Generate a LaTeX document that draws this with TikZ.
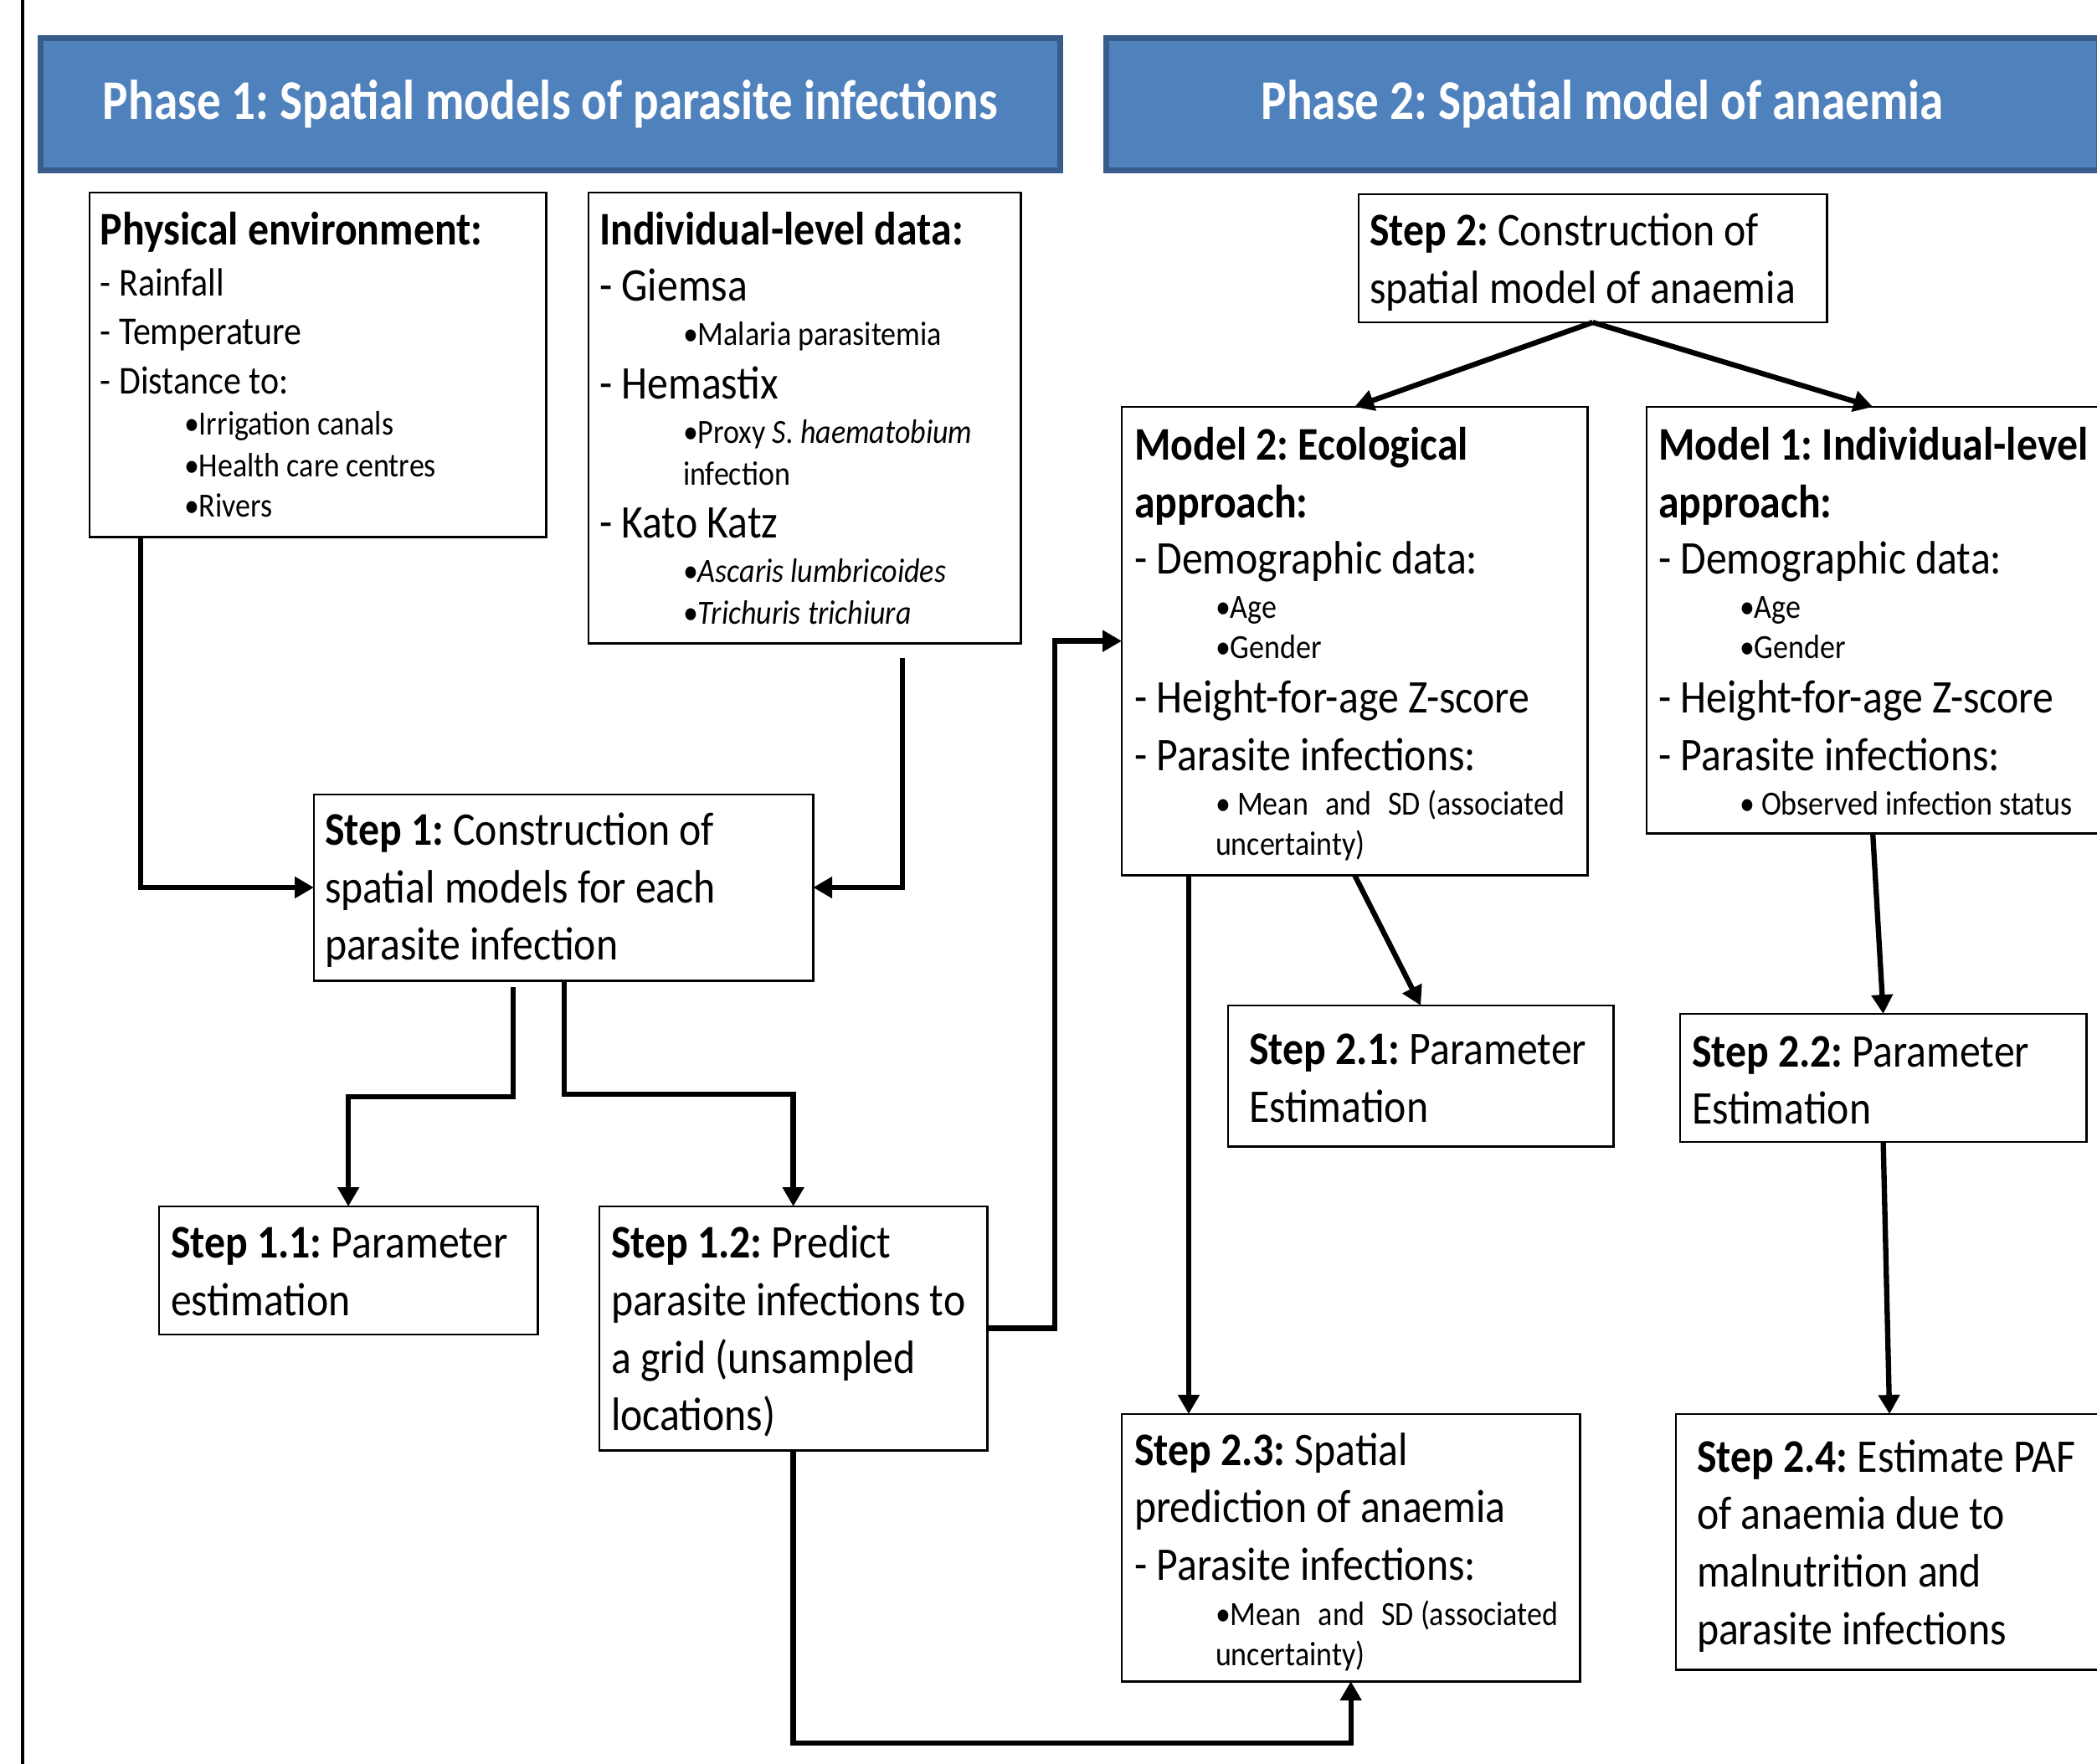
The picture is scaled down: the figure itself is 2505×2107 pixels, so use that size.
\documentclass[tikz,border=0pt]{standalone}
\usepackage{fontspec}
\setmainfont[FakeStretch=0.89]{Carlito}
\newfontfamily\hdrfont[FakeStretch=0.855]{Carlito}
\usetikzlibrary{arrows.meta,calc}
\definecolor{hdrfill}{HTML}{4F81BD}
\definecolor{hdrdraw}{HTML}{385D8A}
\newcommand\fhead{\hdrfont\fontsize{19pt}{22pt}\selectfont\bfseries}
\newcommand\fttl{\fontsize{15.9pt}{19pt}\selectfont\bfseries}
\newcommand\fbig{\fontsize{15.9pt}{19pt}\selectfont}
\newcommand\fmid{\fontsize{13.4pt}{16pt}\selectfont}
\newcommand\fsub{\fontsize{11.5pt}{14pt}\selectfont}
\frenchspacing
\begin{document}
\begin{tikzpicture}[x=0.01cm,y=-0.01cm,
  box/.style={draw,line width=0.8pt,inner sep=0pt,outer sep=0pt,anchor=north west},
  hdr/.style={draw=hdrdraw,fill=hdrfill,line width=2pt,inner sep=0pt,anchor=north west,text=white,font=\fhead},
  tx/.style={anchor=base west,inner sep=0pt,outer sep=0pt,yshift=-0.03cm},
  conn/.style={line width=1.8pt,-{Triangle[length=6.5pt,width=7pt]}}]
\useasboundingbox (0,0) rectangle (2505,2107);
\clip (0,0) rectangle (2505,2107);
\fill[white] (0,0) rectangle (2505,2107);
\draw[line width=1pt] (27,0) -- (27,2107);

% headers
\node[hdr,minimum width=12.17cm,minimum height=1.58cm] (ph1) at (45,42) {Phase 1: Spatial models of parasite infections};
\node[hdr,minimum width=11.85cm,minimum height=1.58cm] (ph2) at (1318,42) {Phase 2: Spatial model of anaemia};

% boxes
\node[box,minimum width=5.45cm,minimum height=4.11cm] (phys) at (107,230) {};
\node[box,minimum width=5.16cm,minimum height=5.38cm] (indiv) at (703,230) {};
\node[box,minimum width=5.96cm,minimum height=2.22cm] (step1) at (375,949) {};
\node[box,minimum width=4.52cm,minimum height=1.53cm] (step11) at (190,1441) {};
\node[box,minimum width=4.63cm,minimum height=2.91cm] (step12) at (716,1441) {};
\node[box,minimum width=5.59cm,minimum height=1.53cm] (step2) at (1623,232) {};
\node[box,minimum width=5.56cm,minimum height=5.59cm] (model2) at (1340,486) {};
\node[box,minimum width=5.40cm,minimum height=5.09cm] (model1) at (1967,486) {};
\node[box,minimum width=4.60cm,minimum height=1.68cm] (step21) at (1467,1201) {};
\node[box,minimum width=4.85cm,minimum height=1.53cm] (step22) at (2007,1211) {};
\node[box,minimum width=5.47cm,minimum height=3.19cm] (step23) at (1340,1689) {};
\node[box,minimum width=5.10cm,minimum height=3.05cm] (step24) at (2002,1689) {};

% physical environment
\node[tx,font=\fttl] (phys1) at (120,290) {Physical environment:};
\node[tx,font=\fmid] (phys2) at (120,351) {- Rainfall};
\node[tx,font=\fmid] (phys3) at (120,409) {- Temperature};
\node[tx,font=\fmid] (phys4) at (120,468) {- Distance to:};
\node[tx,font=\fsub] (phys5) at (220,517) {•Irrigation canals};
\node[tx,font=\fsub] (phys6) at (220,567) {•Health care centres};
\node[tx,font=\fsub] (phys7) at (220,615) {•Rivers};

% individual-level data
\node[tx,font=\fttl] (ind1) at (716,290) {Individual-level data:};
\node[tx,font=\fbig] (ind2) at (716,357) {- Giemsa};
\node[tx,font=\fsub] (ind3) at (816,410) {•Malaria parasitemia};
\node[tx,font=\fbig] (ind4) at (716,474) {- Hemastix};
\node[tx,font=\fsub] (ind5) at (816,527) {•Proxy \textit{S. haematobium}};
\node[tx,font=\fsub] (ind6) at (816,577) {infection};
\node[tx,font=\fbig] (ind7) at (716,640) {- Kato Katz};
\node[tx,font=\fsub] (ind8) at (816,693) {•\textit{Ascaris lumbricoides}};
\node[tx,font=\fsub] (ind9) at (816,743) {•\textit{Trichuris trichiura}};

% step 1
\node[tx,font=\fbig] (s1a) at (388,1007) {\textbf{Step 1:} Construction of};
\node[tx,font=\fbig] (s1b) at (388,1076) {spatial models for each};
\node[tx,font=\fbig] (s1c) at (388,1144) {parasite infection};

% step 1.1
\node[tx,font=\fbig] (s11a) at (204,1499) {\textbf{Step 1.1:} Parameter};
\node[tx,font=\fbig] (s11b) at (204,1568) {estimation};

% step 1.2
\node[tx,font=\fbig] (s12a) at (730,1499) {\textbf{Step 1.2:} Predict};
\node[tx,font=\fbig] (s12b) at (730,1568) {parasite infections to};
\node[tx,font=\fbig] (s12c) at (730,1637) {a grid (unsampled};
\node[tx,font=\fbig] (s12d) at (730,1705) {locations)};

% step 2
\node[tx,font=\fbig] (s2a) at (1636,291) {\textbf{Step 2:} Construction of};
\node[tx,font=\fbig] (s2b) at (1636,360) {spatial model of anaemia};

% model 2
\node[tx,font=\fttl] (m2a) at (1355,547) {Model 2: Ecological};
\node[tx,font=\fttl] (m2b) at (1355,616) {approach:};
\node[tx,font=\fbig] (m2c) at (1355,683) {- Demographic data:};
\node[tx,font=\fsub] (m2d) at (1452,736) {•Age};
\node[tx,font=\fsub] (m2e) at (1452,784) {•Gender};
\node[tx,font=\fbig] (m2f) at (1355,849) {- Height-for-age Z-score};
\node[tx,font=\fbig] (m2g) at (1355,918) {- Parasite infections:};
\node[tx,font=\fsub] (m2h) at (1452,971) {• Mean\enspace and\enspace SD (associated};
\node[tx,font=\fsub] (m2i) at (1452,1019) {uncertainty)};

% model 1
\node[tx,font=\fttl] (m1a) at (1981,547) {Model 1: Individual-level};
\node[tx,font=\fttl] (m1b) at (1981,616) {approach:};
\node[tx,font=\fbig] (m1c) at (1981,683) {- Demographic data:};
\node[tx,font=\fsub] (m1d) at (2078,736) {•Age};
\node[tx,font=\fsub] (m1e) at (2078,784) {•Gender};
\node[tx,font=\fbig] (m1f) at (1981,849) {- Height-for-age Z-score};
\node[tx,font=\fbig] (m1g) at (1981,918) {- Parasite infections:};
\node[tx,font=\fsub] (m1h) at (2078,971) {• Observed infection status};

% step 2.1 / 2.2
\node[tx,font=\fbig] (s21a) at (1492,1269) {\textbf{Step 2.1:} Parameter};
\node[tx,font=\fbig] (s21b) at (1492,1338) {Estimation};
\node[tx,font=\fbig] (s22a) at (2021,1271) {\textbf{Step 2.2:} Parameter};
\node[tx,font=\fbig] (s22b) at (2021,1339) {Estimation};

% step 2.3
\node[tx,font=\fbig] (s23a) at (1355,1747) {\textbf{Step 2.3:} Spatial};
\node[tx,font=\fbig] (s23b) at (1355,1815) {prediction of anaemia};
\node[tx,font=\fbig] (s23c) at (1355,1884) {- Parasite infections:};
\node[tx,font=\fsub] (s23d) at (1452,1938) {•Mean\enspace and\enspace SD (associated};
\node[tx,font=\fsub] (s23e) at (1452,1986) {uncertainty)};

% step 2.4
\node[tx,font=\fbig] (s24a) at (2027,1755) {\textbf{Step 2.4:} Estimate PAF};
\node[tx,font=\fbig] (s24b) at (2027,1823) {of anaemia due to};
\node[tx,font=\fbig] (s24c) at (2027,1892) {malnutrition and};
\node[tx,font=\fbig] (s24d) at (2027,1961) {parasite infections};

% connectors
\draw[conn] ($(phys.south west)+(61,0)$) |- (step1.west);
\draw[conn] ($(indiv.south west)+(375,18)$) |- (step1.east);
\draw[conn] ($(step1.south west)+(238,8)$) -- ++(0,131) -| (step11.north);
\draw[conn] ($(step1.south west)+(299,0)$) -- ++(0,136) -| (step12.north);
\draw[conn] (step12.east) -- ++(81,0) |- (model2.west);
\draw[conn] (step12.south) -- ++(0,350) -| (step23.south);
\draw[conn] (step2.south) -- (model2.north);
\draw[conn] (step2.south) -- (model1.north);
\draw[conn] (model2.south) -- (step21.north);
\draw[conn] ($(model2.south west)+(80,0)$) -- ($(step23.north west)+(80,0)$);
\draw[conn] (model1.south) -- (step22.north);
\draw[conn] (step22.south) -- (step24.north);
\end{tikzpicture}
\end{document}
